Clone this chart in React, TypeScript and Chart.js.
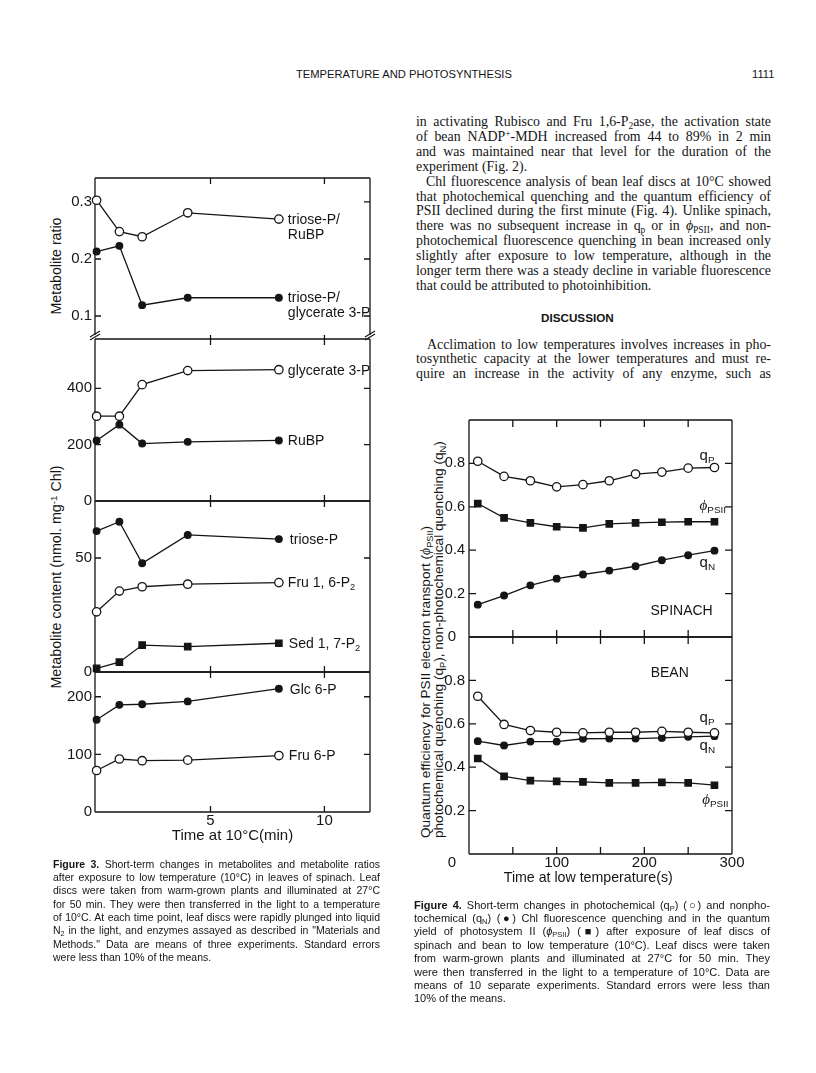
import React, { useEffect, useRef } from 'react';
import { Chart, registerables } from 'chart.js';
Chart.register(...registerables);

const INK = '#151515';
const SANS = '"Liberation Sans", Arial, Helvetica, sans-serif';
const SERIF = '"Liberation Serif", "Times New Roman", Times, serif';

// ---------- Figure 3 data (time, min) ----------
const fig3Times = [0, 1, 2, 4, 8];
const ratioTrioseRuBP = [0.303, 0.248, 0.239, 0.281, 0.27];
const ratioTrioseGlycerate = [0.213, 0.223, 0.119, 0.132, 0.132];
const glycerate3P = [301, 301, 413, 463, 466];
const rubp = [215, 271, 204, 210, 215];
const trioseP = [61.8, 65.9, 47.7, 60.1, 58.3];
const fru16P2 = [26.4, 35.5, 37.4, 38.5, 39.2];
const sed17P2 = [1.6, 4.3, 11.8, 11.1, 12.6];
const glc6P = [160, 186, 187, 192, 214];
const fru6P = [72, 92, 89, 90, 98];

// ---------- Figure 4 data (time, s) ----------
const fig4Times = [10, 40, 70, 100, 130, 160, 190, 220, 250, 280];
const spinachQP = [0.81, 0.74, 0.72, 0.692, 0.702, 0.72, 0.751, 0.76, 0.778, 0.781];
const spinachPhi = [0.615, 0.549, 0.526, 0.508, 0.503, 0.521, 0.526, 0.529, 0.531, 0.531];
const spinachQN = [0.149, 0.191, 0.238, 0.269, 0.288, 0.306, 0.326, 0.354, 0.377, 0.398];
const beanQP = [0.727, 0.597, 0.569, 0.561, 0.558, 0.561, 0.561, 0.565, 0.561, 0.558];
const beanQN = [0.52, 0.5, 0.518, 0.518, 0.531, 0.532, 0.532, 0.535, 0.54, 0.543];
const beanPhi = [0.44, 0.358, 0.338, 0.335, 0.332, 0.328, 0.328, 0.33, 0.328, 0.317];

// ---------- ticks / ranges ----------
const fig3XRange = [-0.07, 12];
const fig3XTicks = [5, 10];
const ratioRange = [0.0667, 0.342];
const ratioTicks = [0.1, 0.2, 0.3];
const p2Range = [0, 575];
const p2Ticks = [0, 200, 400];
const p3Range = [0, 75];
const p3Ticks = [0, 50];
const p4Range = [0, 243];
const p4Ticks = [0, 100, 200];
const fig4XRange = [0, 300];
const fig4XLabels = [100, 200, 300];
const fig4XMarks = [50, 100, 150, 200, 250];
const fig4YRange = [0, 1];
const fig4YLabels = [0.2, 0.4, 0.6, 0.8];
const fig4YMarks = [0.2, 0.4, 0.6, 0.8];

type Seg = { t: string; sub?: boolean; sup?: boolean; italic?: boolean; serif?: boolean };

function drawRich(ctx: CanvasRenderingContext2D, segs: Seg[], x: number, y: number, size: number, align = 'left') {
  const fontOf = (s: Seg) => `${s.italic ? 'italic ' : ''}${s.sub || s.sup ? size * 0.66 : size}px ${s.serif ? SERIF : SANS}`;
  let total = 0;
  const ws = segs.map((s) => { ctx.font = fontOf(s); const w = ctx.measureText(s.t).width; total += w; return w; });
  let cx = align === 'center' ? x - total / 2 : align === 'right' ? x - total : x;
  ctx.save();
  ctx.fillStyle = INK;
  ctx.textAlign = 'left';
  ctx.textBaseline = 'middle';
  segs.forEach((s, i) => {
    ctx.font = fontOf(s);
    const dy = s.sub ? size * 0.3 : s.sup ? -size * 0.35 : 0;
    ctx.fillText(s.t, cx, y + dy);
    cx += ws[i];
  });
  ctx.restore();
}

const framePlugin = {
  id: 'frame',
  beforeDatasetsDraw(chart: any, _a: any, o: any) {
    const { ctx, chartArea: a, scales } = chart;
    const xs = scales.x, ys = scales.y;
    const L = o.tickLen ?? 6;
    ctx.save();
    ctx.strokeStyle = INK;
    ctx.lineWidth = 1.3;
    ctx.beginPath();
    ctx.moveTo(a.left, a.top); ctx.lineTo(a.left, a.bottom);
    ctx.moveTo(a.right, a.top); ctx.lineTo(a.right, a.bottom);
    if (o.top !== false) { ctx.moveTo(a.left, a.top); ctx.lineTo(a.right, a.top); }
    if (o.bottom !== false) { ctx.moveTo(a.left, a.bottom); ctx.lineTo(a.right, a.bottom); }
    for (const v of o.xTicks ?? []) {
      const px = xs.getPixelForValue(v);
      if (o.top !== false) { ctx.moveTo(px, a.top - (o.topCross ? 4 : 0)); ctx.lineTo(px, a.top + L); }
      if (o.bottom !== false) { ctx.moveTo(px, a.bottom); ctx.lineTo(px, a.bottom - L); }
    }
    for (const v of o.yTicks ?? []) {
      const py = ys.getPixelForValue(v);
      ctx.moveTo(a.left, py); ctx.lineTo(a.left + L, py);
      ctx.moveTo(a.right, py); ctx.lineTo(a.right - L, py);
    }
    ctx.stroke();
    ctx.lineWidth = 1.2;
    ctx.beginPath();
    const slash = (x: number, y: number) => { ctx.moveTo(x - 5, y + 3); ctx.lineTo(x + 5, y - 3); };
    if (o.breakBottom) { slash(a.left, a.bottom - 1); slash(a.right, a.bottom - 1); }
    if (o.breakTop) { slash(a.left, a.top - 2); slash(a.right, a.top - 2); }
    ctx.stroke();
    ctx.restore();
  },
};

const labelPlugin = {
  id: 'seriesLabels',
  afterDatasetsDraw(chart: any, _a: any, o: any) {
    const { ctx, scales, chartArea } = chart;
    for (const lab of o.items ?? []) {
      let px: number, py: number;
      if (lab.dataset !== undefined) {
        const meta = chart.getDatasetMeta(lab.dataset);
        const el = meta.data[meta.data.length - 1];
        px = el.x + (lab.dx ?? 9);
        py = el.y + (lab.dy ?? 1);
      } else {
        px = scales.x.getPixelForValue(lab.x);
        py = lab.below !== undefined ? chartArea.bottom + lab.below : scales.y.getPixelForValue(lab.y);
      }
      lab.lines.forEach((segs: Seg[], i: number) => drawRich(ctx, segs, px, py + i * 15, lab.size ?? o.size ?? 14, lab.align ?? 'left'));
    }
    if (o.cornerZero !== undefined) {
      drawRich(ctx, [{ t: '0' }], scales.x.getPixelForValue(0) - 17, chartArea.bottom + o.cornerZero, 15, 'center');
    }
  },
};

const fmt = (v: any) => String(v);
const setTicks = (vals: number[]) => (axis: any) => { axis.ticks = vals.map((v) => ({ value: v })); };
const fixAxis = (size: number, horizontal: boolean) => (s: any) => {
  if (s.options.display) {
    if (horizontal) s.height = size; else s.width = size;
  }
  s.paddingTop = 0; s.paddingBottom = 0; s.paddingLeft = 0; s.paddingRight = 0;
};
const pairs = (xs: number[], ys: number[]) => xs.map((x, i) => ({ x, y: ys[i] }));

const lineBase = { borderColor: INK, borderWidth: 1.3, pointBorderColor: INK, pointBorderWidth: 1.3, tension: 0, fill: false, clip: false };
const openC = (data: any) => ({ ...lineBase, data, pointStyle: 'circle', pointRadius: 4.2, pointBackgroundColor: '#fff' });
const fillC = (data: any) => ({ ...lineBase, data, pointStyle: 'circle', pointRadius: 3.3, pointBackgroundColor: INK });
const fillS = (data: any) => ({ ...lineBase, data, pointStyle: 'rect', pointRadius: 4.5, pointBackgroundColor: INK });

function makeConfig(p: any) {
  const tickFont = { family: SANS, size: p.tickSize ?? 15, lineHeight: 1 };
  return {
    type: 'line',
    data: { datasets: p.datasets },
    options: {
      responsive: false,
      animation: false,
      events: [],
      devicePixelRatio: 1,
      layout: { padding: p.padding, autoPadding: false },
      plugins: {
        legend: { display: false },
        tooltip: { enabled: false },
        frame: p.frame,
        seriesLabels: { items: p.labels, size: p.labelSize ?? 14, cornerZero: p.cornerZero },
      },
      scales: {
        x: {
          type: 'linear', min: p.xRange[0], max: p.xRange[1], display: !!p.xAxis,
          grid: { display: false, drawTicks: false }, border: { display: false },
          afterBuildTicks: setTicks(p.xLabels),
          ticks: { font: tickFont, color: INK, padding: 1, maxRotation: 0, autoSkip: false, callback: fmt },
          title: { display: !!p.xTitle, text: p.xTitle, font: { family: SANS, size: 15 }, color: INK, padding: { top: 0, bottom: p.xTitlePad ?? 4 } },
          afterFit: fixAxis(p.xHeight ?? 38, true),
        },
        y: {
          type: 'linear', min: p.yRange[0], max: p.yRange[1],
          grid: { display: false, drawTicks: false }, border: { display: false },
          afterBuildTicks: setTicks(p.yLabels),
          ticks: { font: tickFont, color: INK, padding: p.yPad ?? 3, autoSkip: false, callback: fmt },
          afterFit: fixAxis(p.yWidth, false),
        },
      },
    },
    plugins: [framePlugin, labelPlugin],
  };
}

function ChartPanel({ left, top, width, height, spec }: any) {
  const ref = useRef<HTMLCanvasElement>(null);
  useEffect(() => {
    const chart = new Chart(ref.current as HTMLCanvasElement, makeConfig(spec) as any);
    return () => chart.destroy();
  }, []);
  return <canvas ref={ref} width={width} height={height} style={{ position: 'absolute', left, top, width, height }} />;
}

const T = (t: string): Seg[] => [{ t }];
const q = (s: string): Seg[] => [{ t: 'q' }, { t: s, sub: true }];
const phi: Seg[] = [{ t: 'ϕ', italic: true, serif: true }, { t: 'PSII', sub: true }];

const fig3Specs = [
  {
    left: 40, top: 160, width: 340, height: 185,
    spec: {
      datasets: [openC(pairs(fig3Times, ratioTrioseRuBP)), fillC(pairs(fig3Times, ratioTrioseGlycerate))],
      padding: { top: 18, bottom: 10, left: 0, right: 10 }, xRange: fig3XRange, xLabels: fig3XTicks,
      yRange: ratioRange, yLabels: ratioTicks, yWidth: 55,
      frame: { bottom: false, breakBottom: true, xTicks: fig3XTicks, yTicks: ratioTicks },
      labels: [
        { dataset: 0, lines: [T('triose-P/'), T('RuBP')] },
        { dataset: 1, lines: [T('triose-P/'), T('glycerate 3-P')], dy: 0 },
      ],
    },
  },
  {
    left: 40, top: 325, width: 340, height: 185,
    spec: {
      datasets: [openC(pairs(fig3Times, glycerate3P)), fillC(pairs(fig3Times, rubp))],
      padding: { top: 14, bottom: 9, left: 0, right: 10 }, xRange: fig3XRange, xLabels: fig3XTicks,
      yRange: p2Range, yLabels: p2Ticks, yWidth: 55,
      frame: { breakTop: true, topCross: true, xTicks: fig3XTicks, yTicks: [200, 400] },
      labels: [{ dataset: 0, lines: [T('glycerate 3-P')] }, { dataset: 1, lines: [T('RuBP')] }],
    },
  },
  {
    left: 40, top: 490, width: 340, height: 192,
    spec: {
      datasets: [fillC(pairs(fig3Times, trioseP)), openC(pairs(fig3Times, fru16P2)), fillS(pairs(fig3Times, sed17P2))],
      padding: { top: 11, bottom: 10, left: 0, right: 10 }, xRange: fig3XRange, xLabels: fig3XTicks,
      yRange: p3Range, yLabels: p3Ticks, yWidth: 55,
      frame: { xTicks: fig3XTicks, yTicks: [50] },
      labels: [
        { dataset: 0, lines: [T('triose-P')], dx: 11 },
        { dataset: 1, lines: [[{ t: 'Fru 1, 6-P' }, { t: '2', sub: true }]] },
        { dataset: 2, lines: [[{ t: 'Sed 1, 7-P' }, { t: '2', sub: true }]], dx: 10 },
      ],
    },
  },
  {
    left: 40, top: 660, width: 340, height: 190,
    spec: {
      datasets: [fillC(pairs(fig3Times, glc6P)), openC(pairs(fig3Times, fru6P))],
      padding: { top: 12, bottom: 0, left: 0, right: 10 }, xRange: fig3XRange, xLabels: fig3XTicks,
      xAxis: true, xTitle: 'Time at 10°C(min)', xTitlePad: 5, xHeight: 38,
      yRange: p4Range, yLabels: p4Ticks, yWidth: 55,
      frame: { xTicks: fig3XTicks, yTicks: [100, 200] },
      labels: [{ dataset: 0, lines: [T('Glc 6-P')], dx: 11 }, { dataset: 1, lines: [T('Fru 6-P')], dx: 10 }],
    },
  },
];

const fig4Specs = [
  {
    left: 405, top: 400, width: 345, height: 250,
    spec: {
      datasets: [openC(pairs(fig4Times, spinachQP)), fillS(pairs(fig4Times, spinachPhi)), fillC(pairs(fig4Times, spinachQN))],
      padding: { top: 20, bottom: 13, left: 0, right: 18 }, xRange: fig4XRange, xLabels: fig4XLabels,
      yRange: fig4YRange, yLabels: fig4YLabels, yWidth: 64, yPad: 4, tickSize: 14.5,
      frame: { tickLen: 7, xTicks: fig4XMarks, yTicks: fig4YMarks },
      labelSize: 15, cornerZero: 0,
      labels: [
        { x: 263, y: 0.837, lines: [q('P')] },
        { x: 263, y: 0.603, lines: [phi] },
        { x: 263, y: 0.343, lines: [q('N')] },
        { x: 242.5, y: 0.118, lines: [T('SPINACH')], align: 'center', size: 14 },
      ],
    },
  },
  {
    left: 405, top: 625, width: 345, height: 265,
    spec: {
      datasets: [openC(pairs(fig4Times, beanQP)), fillC(pairs(fig4Times, beanQN)), fillS(pairs(fig4Times, beanPhi))],
      padding: { top: 12, bottom: 0, left: 0, right: 18 }, xRange: fig4XRange, xLabels: fig4XLabels,
      xAxis: true, xHeight: 36,
      yRange: fig4YRange, yLabels: fig4YLabels, yWidth: 64, yPad: 4, tickSize: 15,
      frame: { tickLen: 7, xTicks: fig4XMarks, yTicks: fig4YMarks },
      labelSize: 15, cornerZero: 8.5,
      labels: [
        { x: 229, y: 0.835, lines: [T('BEAN')], align: 'center', size: 14 },
        { x: 263, y: 0.629, lines: [q('P')] },
        { x: 263, y: 0.497, lines: [q('N')] },
        { x: 266, y: 0.25, lines: [phi] },
        { x: 136, below: 24, lines: [T('Time at low temperature(s)')], align: 'center', size: 14.2 },
      ],
    },
  },
];

const Sub = ({ children }: any) => <span style={{ fontSize: '0.68em', verticalAlign: '-0.28em', lineHeight: 0 }}>{children}</span>;
const Sup = ({ children }: any) => <span style={{ fontSize: '0.68em', verticalAlign: '0.45em', lineHeight: 0 }}>{children}</span>;

function TLine({ x, y, w, lh, size, family, last, indent, children }: any) {
  return (
    <div style={{ position: 'absolute', left: x, top: y - lh / 2, width: w, height: lh, lineHeight: lh + 'px', fontSize: size, fontFamily: family, textAlign: last ? 'left' : 'justify', textAlignLast: last ? 'left' : 'justify', textIndent: indent ?? 0 } as any}>
      {children}
    </div>
  );
}

function VText({ cx, cy, w, h, size, align, lh, children }: any) {
  return (
    <div style={{ position: 'absolute', left: cx - w / 2, top: cy - h / 2, width: w, height: h, transform: 'rotate(-90deg)', transformOrigin: '50% 50%', fontFamily: SANS, fontSize: size, lineHeight: (lh ?? h) + 'px', textAlign: align ?? 'center', whiteSpace: 'nowrap' }}>
      {children}
    </div>
  );
}

const bodyLines: any[] = [
  { node: <>in activating Rubisco and Fru 1,6-P<Sub>2</Sub>ase, the activation state</> },
  { node: <>of bean NADP<Sup>+</Sup>-MDH increased from 44 to 89% in 2 min</> },
  { node: <>and was maintained near that level for the duration of the</> },
  { node: <>experiment (Fig. 2).</>, last: true },
  { node: <>Chl fluorescence analysis of bean leaf discs at 10°C showed</>, indent: 10 },
  { node: <>that photochemical quenching and the quantum efficiency of</> },
  { node: <>PSII declined during the first minute (Fig. 4). Unlike spinach,</> },
  { node: <>there was no subsequent increase in q<Sub>p</Sub> or in <i>ϕ</i><Sub>PSII</Sub>, and non-</> },
  { node: <>photochemical fluorescence quenching in bean increased only</> },
  { node: <>slightly after exposure to low temperature, although in the</> },
  { node: <>longer term there was a steady decline in variable fluorescence</> },
  { node: <>that could be attributed to photoinhibition.</>, last: true },
];
const body2Lines: any[] = [
  { node: <>Acclimation to low temperatures involves increases in pho-</>, indent: 11 },
  { node: <>tosynthetic capacity at the lower temperatures and must re-</> },
  { node: <>quire an increase in the activity of any enzyme, such as</> },
];
const cap3Lines: any[] = [
  { node: <><b>Figure 3.</b> Short-term changes in metabolites and metabolite ratios</> },
  { node: <>after exposure to low temperature (10°C) in leaves of spinach. Leaf</> },
  { node: <>discs were taken from warm-grown plants and illuminated at 27°C</> },
  { node: <>for 50 min. They were then transferred in the light to a temperature</> },
  { node: <>of 10°C. At each time point, leaf discs were rapidly plunged into liquid</> },
  { node: <>N<Sub>2</Sub> in the light, and enzymes assayed as described in "Materials and</> },
  { node: <>Methods." Data are means of three experiments. Standard errors</> },
  { node: <>were less than 10% of the means.</>, last: true },
];
const cap4Lines: any[] = [
  { node: <><b>Figure 4.</b> Short-term changes in photochemical (q<Sub>P</Sub>) (○) and nonpho-</> },
  { node: <>tochemical (q<Sub>N</Sub>) (●) Chl fluorescence quenching and in the quantum</> },
  { node: <>yield of photosystem II (<i>ϕ</i><Sub>PSII</Sub>) (■) after exposure of leaf discs of</> },
  { node: <>spinach and bean to low temperature (10°C). Leaf discs were taken</> },
  { node: <>from warm-grown plants and illuminated at 27°C for 50 min. They</> },
  { node: <>were then transferred in the light to a temperature of 10°C. Data are</> },
  { node: <>means of 10 separate experiments. Standard errors were less than</> },
  { node: <>10% of the means.</>, last: true },
];

export default function App() {
  return (
    <div style={{ position: 'absolute', left: 0, top: 0, width: 816, height: 1073, background: '#fff', color: INK, overflow: 'hidden' }}>
      <div style={{ position: 'absolute', left: 296, top: 66, fontFamily: SANS, fontSize: 11.2, lineHeight: '16px', whiteSpace: 'nowrap' }}>TEMPERATURE AND PHOTOSYNTHESIS</div>
      <div style={{ position: 'absolute', left: 752, top: 66, fontFamily: SANS, fontSize: 11.2, lineHeight: '16px' }}>1111</div>

      {bodyLines.map((l, i) => (
        <TLine key={'b' + i} x={416} y={121.5 + i * 14.9} w={355} lh={15} size={13.9} family={SERIF} last={l.last} indent={l.indent}>{l.node}</TLine>
      ))}
      <div style={{ position: 'absolute', left: 541, top: 310, fontFamily: SANS, fontWeight: 'bold', fontSize: 11.7, lineHeight: '16px', whiteSpace: 'nowrap' }}>DISCUSSION</div>
      {body2Lines.map((l, i) => (
        <TLine key={'c' + i} x={416} y={344 + i * 14.9} w={355} lh={15} size={13.9} family={SERIF} last={l.last} indent={l.indent}>{l.node}</TLine>
      ))}

      <VText cx={56} cy={266} w={200} h={18} size={14.2}>Metabolite ratio</VText>
      <VText cx={56} cy={577} w={300} h={18} size={14.3}>Metabolite content (nmol. mg<Sup>-1</Sup> Chl)</VText>
      <VText cx={432} cy={628} w={420} h={24} lh={12.5} size={13.6} align="left">
        Quantum efficiency for PSII electron transport (<i style={{ fontFamily: SERIF }}>ϕ</i><Sub>PSII</Sub>)<br />
        photochemical quenching (q<Sub>P</Sub>), non-photochemical quenching (q<Sub>N</Sub>)
      </VText>

      {fig3Specs.map((p, i) => <ChartPanel key={'f3' + i} {...p} />)}
      {fig4Specs.map((p, i) => <ChartPanel key={'f4' + i} {...p} />)}

      {cap3Lines.map((l, i) => (
        <TLine key={'k' + i} x={53} y={864 + i * 13.35} w={327} lh={13} size={10.5} family={SANS} last={l.last}>{l.node}</TLine>
      ))}
      {cap4Lines.map((l, i) => (
        <TLine key={'m' + i} x={414} y={905 + i * 13.4} w={356} lh={13} size={11} family={SANS} last={l.last}>{l.node}</TLine>
      ))}
    </div>
  );
}
